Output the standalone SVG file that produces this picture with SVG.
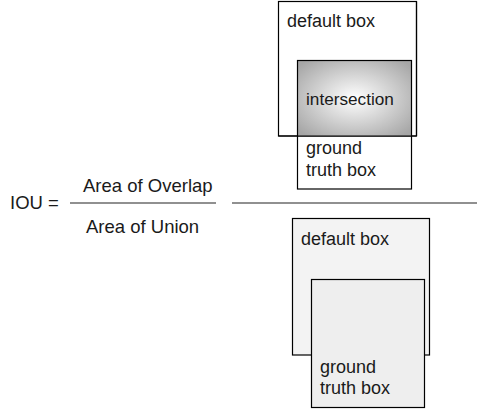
<svg xmlns="http://www.w3.org/2000/svg" width="482" height="414" viewBox="0 0 482 414">
<style>
.t{font-family:"Liberation Sans",Arial,sans-serif;font-size:18px;fill:#1a1a1a}
.f{font-family:"Liberation Sans",Arial,sans-serif;font-size:18.5px;fill:#1a1a1a}
.b{stroke:#000;stroke-width:1.2}
.ln{stroke:#222;stroke-width:1.2}
</style>
<defs>
<radialGradient id="g" cx="0.5" cy="0.5" r="0.65">
<stop offset="0" stop-color="#ffffff"/>
<stop offset="1" stop-color="#a6a6a6"/>
</radialGradient>
</defs>
<g id="formula">
<text class="f" x="10" y="209">IOU =</text>
<text class="f" x="83" y="192">Area of Overlap</text>
<text class="f" x="86" y="233">Area of Union</text>
</g>
<g id="connectors">
<line class="ln" x1="70" y1="203" x2="216" y2="203"/>
<line class="ln" x1="232" y1="203" x2="477" y2="203"/>
</g>
<g id="top-default">
<rect class="b" x="278.5" y="1.5" width="138" height="134.5" fill="#fff"/>
<text class="t" x="287" y="27">default box</text>
</g>
<g id="top-ground">
<rect x="297.5" y="60.5" width="114" height="75.5" fill="url(#g)"/>
<rect class="b" x="297.5" y="60.5" width="114" height="128.5" fill="none"/>
<line class="b" x1="278.5" y1="136" x2="416.5" y2="136"/>
<line class="b" x1="416.5" y1="1.5" x2="416.5" y2="136"/>
<text class="t" x="306" y="105" style="font-size:17.2px">intersection</text>
<text class="t" x="306" y="154">ground</text>
<text class="t" x="306" y="176">truth box</text>
</g>
<g id="bottom-default">
<rect class="b" x="292.5" y="218.5" width="137" height="136.5" fill="#f3f3f3"/>
<text class="t" x="301" y="245">default box</text>
</g>
<g id="bottom-ground">
<rect class="b" x="311.5" y="279.5" width="113" height="128" fill="#eeeeee"/>
<text class="t" x="320" y="373">ground</text>
<text class="t" x="320" y="394">truth box</text>
</g>
</svg>
